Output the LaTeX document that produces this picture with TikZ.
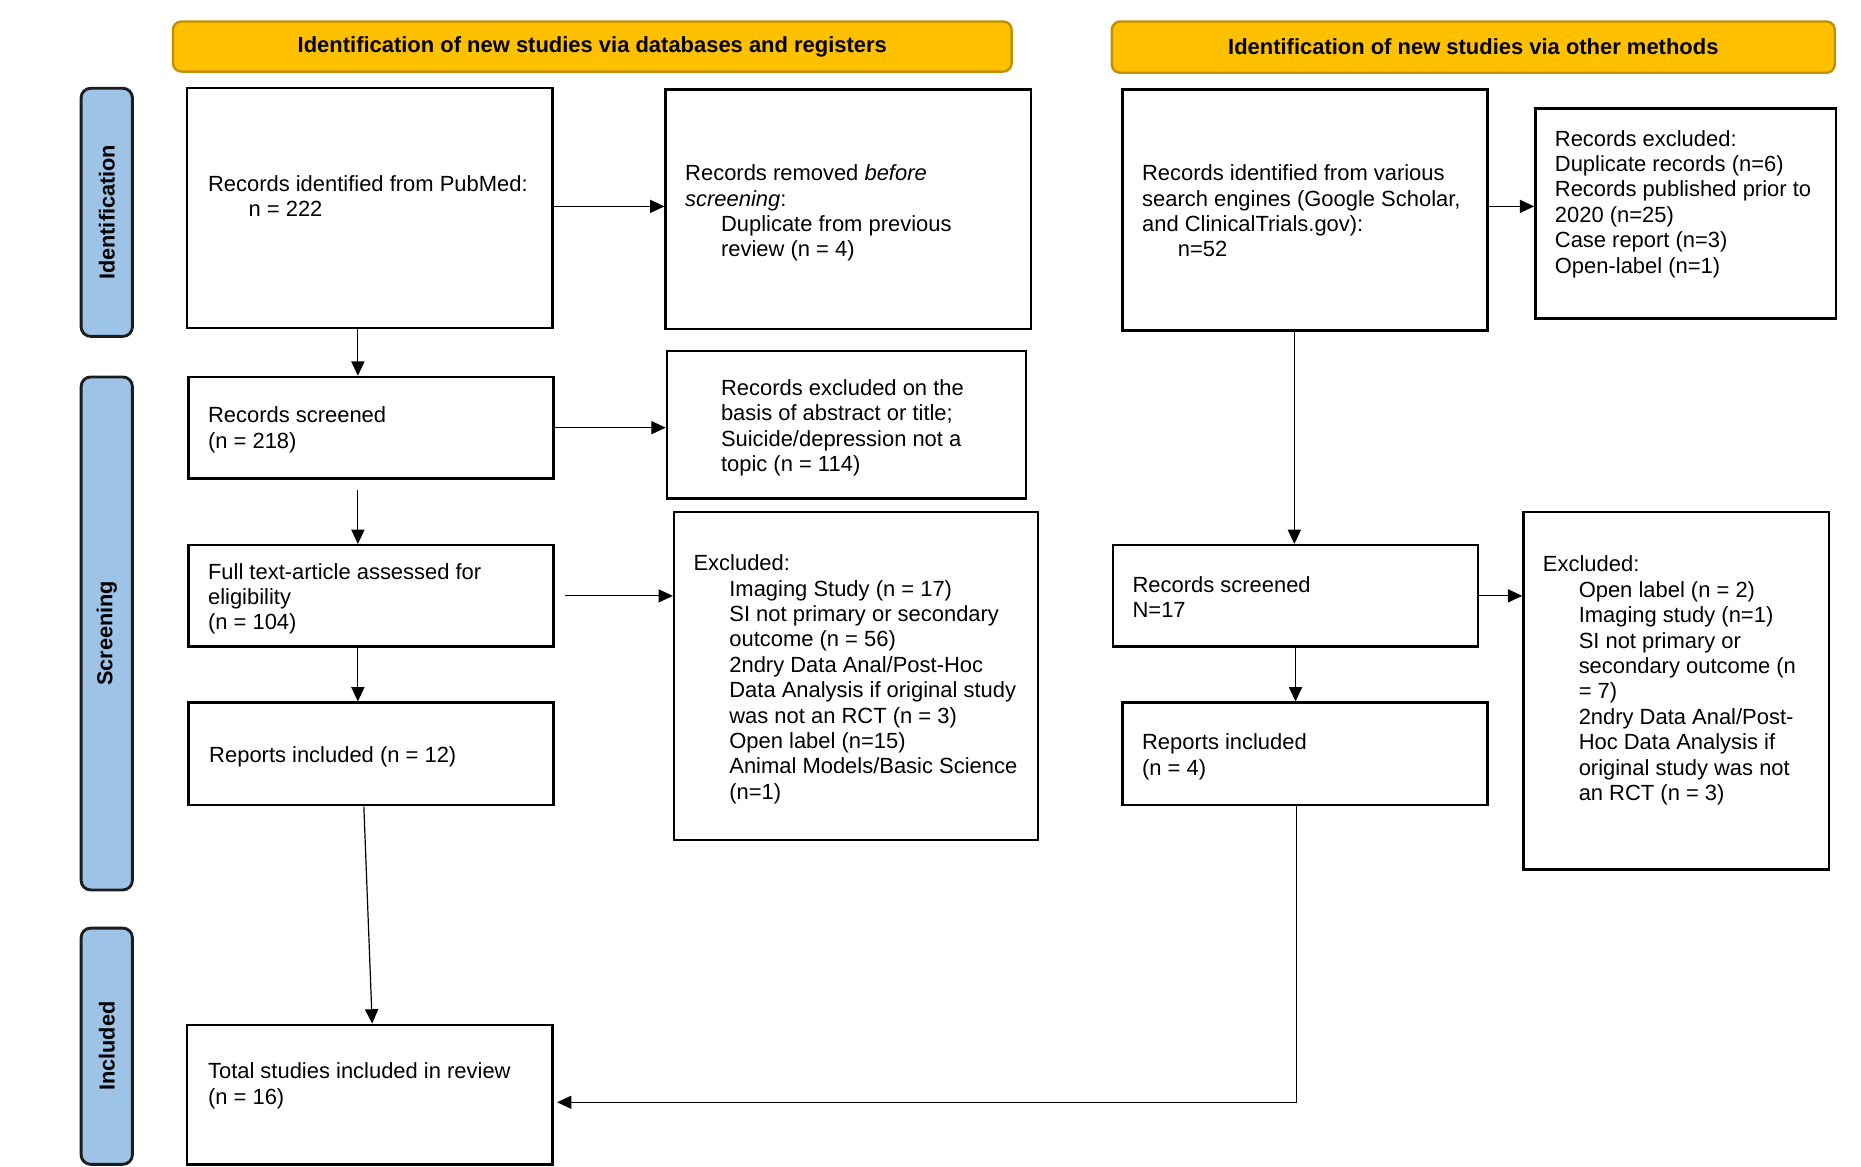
\documentclass[tikz,border=0pt]{standalone}
\usepackage{fontspec}
\setmainfont{Liberation Sans}
\usetikzlibrary{arrows.meta,fit,calc}
\definecolor{hdrfill}{HTML}{FFC000}
\definecolor{hdrdraw}{HTML}{BF9000}
\definecolor{barfill}{HTML}{9DC3E6}
\definecolor{bardraw}{HTML}{1C1C1C}
\newcommand\myind{\hspace*{15pt}}
\newcommand\mystrut{\rule{0pt}{7pt}}
\tikzset{
  box/.style={draw=black, line width=1pt, inner sep=0pt},
  hdr/.style={draw=hdrdraw, fill=hdrfill, line width=1pt, rounded corners=3.5pt, inner sep=0pt},
  sidebar/.style={draw=bardraw, fill=barfill, line width=1.2pt, rounded corners=4pt, inner sep=0pt},
  txt/.style={anchor=north west, align=left, inner sep=0pt, font=\fontsize{9.2}{10.65}\selectfont},
  hdrtxt/.style={inner sep=0pt, font=\fontsize{9.2}{10.65}\selectfont\bfseries},
  bartxt/.style={inner sep=0pt, rotate=90, font=\fontsize{9.1}{10.65}\selectfont\bfseries},
  arr/.style={line width=0.5pt, -{Triangle[length=6pt,width=5.5pt]}}
}
\begin{document}
\begin{tikzpicture}[x=0.5pt,y=-0.5pt]
\useasboundingbox (0,0) rectangle (1560,978);
% headers
\node[hdr, fit={(145,18) (848,60)}] (h1) {};
\node[hdrtxt] (h1t) at (h1.center) {Identification of new studies via databases and registers};
\node[hdr, fit={(932,18) (1538,61)}] (h2) {};
\node[hdrtxt] (h2t) at (h2.center) {Identification of new studies via other methods};
% side bars
\node[sidebar, fit={(68,74) (111,282)}] (b1) {};
\node[bartxt] (b1t) at (b1.center) {Identification};
\node[sidebar, fit={(68,316) (111,746)}] (b2) {};
\node[bartxt] (b2t) at (b2.center) {Screening};
\node[sidebar, fit={(68,778) (111,976)}] (b3) {};
\node[bartxt] (b3t) at (b3.center) {Included};
% boxes
\node[box, fit={(157,74) (463,275)}] (pub) {};
\node[box, fit={(558,75) (864,276)}] (rem) {};
\node[box, fit={(941,75) (1247,277)}] (oth) {};
\node[box, fit={(1287,91) (1539,267)}] (oex) {};
\node[box, fit={(158,316) (464,401)}] (scr) {};
\node[box, fit={(559,294) (860,418)}] (exa) {};
\node[box, fit={(158,457) (464,542)}] (full) {};
\node[box, fit={(565,429) (870,704)}] (exf) {};
\node[box, fit={(158,589) (464,675)}] (rep) {};
\node[box, fit={(933,457) (1239,542)}] (scr2) {};
\node[box, fit={(1277,429) (1533,729)}] (exf2) {};
\node[box, fit={(941,589) (1247,675)}] (rep2) {};
\node[box, fit={(157,859) (463,976)}] (tot) {};
% texts
\node[txt] (pubt) at (174,146) {\mystrut Records identified from PubMed:\\\hspace*{17pt}n = 222};
\node[txt] (remt) at (574,137) {\mystrut Records removed \textit{before}\\\textit{screening}:\\\myind Duplicate from previous\\\myind review (n = 4)};
\node[txt] (otht) at (957,137) {\mystrut Records identified from various\\search engines (Google Scholar,\\and ClinicalTrials.gov):\\\myind n=52};
\node[txt] (oext) at (1303,108) {\mystrut Records excluded:\\Duplicate records (n=6)\\Records published prior to\\2020 (n=25)\\Case report (n=3)\\Open-label (n=1)};
\node[txt] (scrt) at (174,340) {\mystrut Records screened\\(n = 218)};
\node[txt] (exat) at (604,317) {\mystrut Records excluded on the\\basis of abstract or title;\\Suicide/depression not a\\topic (n = 114)};
\node[txt] (fullt) at (174,471) {\mystrut Full text-article assessed for\\eligibility\\(n = 104)};
\node[txt] (exft) at (581,464) {\mystrut Excluded:\\\myind Imaging Study (n = 17)\\\myind SI not primary or secondary\\\myind outcome (n = 56)\\\myind 2ndry Data Anal/Post-Hoc\\\myind Data Analysis if original study\\\myind was not an RCT (n = 3)\\\myind Open label (n=15)\\\myind Animal Models/Basic Science\\\myind (n=1)};
\node[txt] (rept) at (175,625) {\mystrut Reports included (n = 12)};
\node[txt] (scr2t) at (949,482) {\mystrut Records screened\\N=17};
\node[txt] (exf2t) at (1293,465) {\mystrut Excluded:\\\myind Open label (n = 2)\\\myind Imaging study (n=1)\\\myind SI not primary or\\\myind secondary outcome (n\\\myind = 7)\\\myind 2ndry Data Anal/Post-\\\myind Hoc Data Analysis if\\\myind original study was not\\\myind an RCT (n = 3)};
\node[txt] (rep2t) at (957,614) {\mystrut Reports included\\(n = 4)};
\node[txt] (tott) at (174,890) {\mystrut Total studies included in review\\(n = 16)};
% connectors
\draw[arr] ([shift={(0,-1.5)}]pub.east) -- ([shift={(0,-1.5)}]pub.east -| rem.west);
\draw[arr] ([shift={(-10,0)}]pub.south) -- ([shift={(-10,0)}]pub.south |- scr.north);
\draw[arr] (scr.east) -- (scr.east -| exa.west);
\draw[arr] ([shift={(-11,9)}]scr.south) -- ([shift={(-11,0)}]scr.south |- full.north);
\draw[arr] ([shift={(9,0)}]full.east) -- (full.east -| exf.west);
\draw[arr] ([shift={(-11,0)}]full.south) -- ([shift={(-11,0)}]full.south |- rep.north);
\draw[arr] ([shift={(-6,0)}]rep.south) -- ([shift={(2,0)}]tot.north);
\draw[arr] ([shift={(0,-3)}]oth.east) -- ([shift={(0,-3)}]oth.east -| oex.west);
\draw[arr] ([shift={(-9,0)}]oth.south) -- ([shift={(-9,0)}]oth.south |- scr2.north);
\draw[arr] (scr2.east) -- (scr2.east -| exf2.west);
\draw[arr] (scr2.south) -- (scr2.south |- rep2.north);
\draw[arr] ([shift={(-7,0)}]rep2.south) |- ([shift={(3,6.5)}]tot.east);
\end{tikzpicture}
\end{document}
